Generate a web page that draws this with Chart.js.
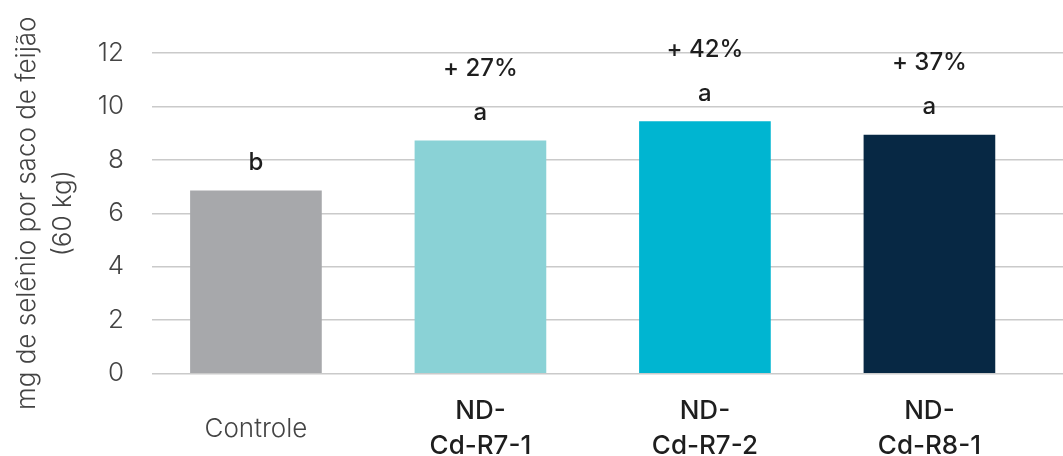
<!DOCTYPE html>
<html>
<head>
<meta charset="utf-8">
<script src="https://cdn.jsdelivr.net/npm/chart.js@4.4.1/dist/chart.umd.min.js"></script>
<style>
  html, body { margin: 0; padding: 0; background: #ffffff; }
  #wrap { width: 1063px; height: 456px; position: relative; }
</style>
</head>
<body>
<div id="wrap"><canvas id="chart"></canvas></div>
<script>
// Selenium content per 60 kg bag of beans, by treatment
const categories = ['Controle', 'ND-Cd-R7-1', 'ND-Cd-R7-2', 'ND-Cd-R8-1'];
const selenio = [6.84, 8.71, 9.43, 8.93];
const letras = ['b', 'a', 'a', 'a'];
const ganhos = ['', '+ 27%', '+ 42%', '+ 37%'];
const yTicks = [0, 2, 4, 6, 8, 10, 12];
const cores = ['#A7A8AB', '#8AD2D6', '#00B5D1', '#072844'];

const FONT = 'Inter, "Noto Sans", "Liberation Sans", sans-serif';

function tickLines(name) {
  return name.startsWith('ND-') ? ['ND-', name.slice(3)] : name;
}

// Significance letters and percentage gains above each bar
const barLabels = {
  id: 'barLabels',
  afterDatasetsDraw(chart) {
    const ctx = chart.ctx;
    const meta = chart.getDatasetMeta(0);
    ctx.save();
    ctx.fillStyle = '#1e1e1e';
    ctx.textAlign = 'center';
    ctx.textBaseline = 'middle';
    ctx.font = '500 24px ' + FONT;
    meta.data.forEach((bar, i) => {
      ctx.fillText(letras[i], bar.x, bar.y - 28);
      if (ganhos[i]) ctx.fillText(ganhos[i], bar.x, bar.y - 72);
    });
    ctx.restore();
  }
};

new Chart(document.getElementById('chart'), {
  type: 'bar',
  data: {
    datasets: [{
      data: categories.map((c, i) => ({ x: i, y: selenio[i] })),
      backgroundColor: cores,
      borderWidth: 0,
      barThickness: 131
    }]
  },
  plugins: [barLabels],
  options: {
    responsive: true,
    maintainAspectRatio: false,
    animation: false,
    layout: { padding: { top: 53, right: 0, bottom: 0, left: 0 } },
    plugins: { legend: { display: false }, tooltip: { enabled: false } },
    scales: {
      x: {
        type: 'linear',
        offset: false,
        min: -0.463,
        max: 3.595,
        grid: { display: false, drawTicks: false },
        border: { display: false },
        afterBuildTicks(scale) {
          scale.ticks = categories.map((c, i) => ({ value: i }));
        },
        afterFit(scale) { scale.height = 82.5; },
        ticks: {
          autoSkip: false,
          maxRotation: 0,
          padding: 38,
          crossAlign: 'center',
          callback: (v) => tickLines(categories[v]),
          font: (ctx) => ({
            family: FONT,
            size: 26,
            weight: ctx.index === 0 ? '300' : '500',
            lineHeight: 1.35
          }),
          color: (ctx) => ctx.index === 0 ? '#444444' : '#1e1e1e'
        }
      },
      y: {
        min: 0,
        max: 12,
        grid: { color: '#CACACA', lineWidth: 1.5, drawTicks: false },
        border: { display: false },
        afterBuildTicks(scale) {
          scale.ticks = yTicks.map(v => ({ value: v }));
        },
        afterFit(scale) { scale.width = 152; },
        ticks: {
          padding: 28,
          color: '#444444',
          font: { family: FONT, size: 26, weight: '300' }
        },
        title: {
          display: true,
          text: ['mg de selênio por saco de feijão', '(60 kg)'],
          color: '#444444',
          font: { family: FONT, size: 26, weight: '300', lineHeight: 1.385 },
          padding: { top: 9, bottom: 0 }
        }
      }
    }
  }
});
</script>
</body>
</html>
